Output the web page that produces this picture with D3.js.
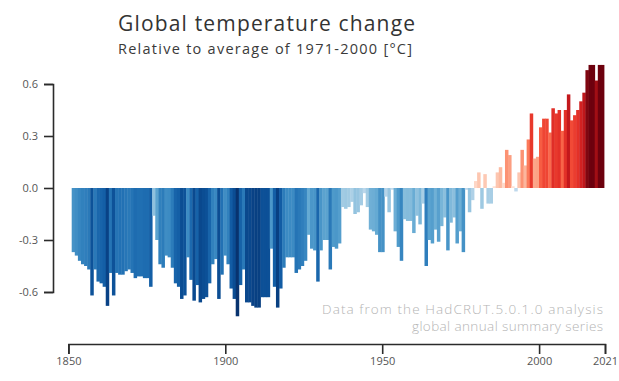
<!DOCTYPE html>
<html><head><meta charset="utf-8">
<script src="https://cdn.jsdelivr.net/npm/d3@7"></script>
<style>
html,body{margin:0;padding:0;background:#fff;}
svg{display:block;font-family:"Open Sans",Lato,sans-serif;}
</style></head><body>
<svg id="chart" width="619" height="381"></svg>
<script>
const titleText = "Global temperature change";
const subtitleText = "Relative to average of 1971-2000 [°C]";
const noteLines = ["Data from the HadCRUT.5.0.1.0 analysis", "global annual summary series"];
const firstYear = 1850, lastYear = 2021;
const anomalies = [
 -0.37,-0.39,-0.42,-0.44,-0.45,-0.47,-0.62,-0.47,-0.54,-0.55,
 -0.57,-0.68,-0.49,-0.62,-0.49,-0.50,-0.50,-0.48,-0.47,-0.49,
 -0.52,-0.51,-0.51,-0.52,-0.52,-0.57,-0.16,-0.30,-0.44,-0.46,
 -0.39,-0.40,-0.46,-0.55,-0.57,-0.64,-0.62,-0.40,-0.53,-0.65,
 -0.56,-0.66,-0.64,-0.63,-0.55,-0.44,-0.41,-0.64,-0.50,-0.39,
 -0.44,-0.58,-0.64,-0.74,-0.56,-0.47,-0.66,-0.66,-0.68,-0.69,
 -0.69,-0.63,-0.63,-0.63,-0.35,-0.57,-0.69,-0.58,-0.46,-0.40,
 -0.40,-0.40,-0.49,-0.47,-0.45,-0.42,-0.27,-0.35,-0.36,-0.54,
 -0.36,-0.30,-0.30,-0.47,-0.34,-0.35,-0.32,-0.11,-0.12,-0.11,
 -0.08,-0.15,-0.14,-0.10,-0.03,-0.11,-0.24,-0.25,-0.27,-0.37,
 -0.37,-0.05,-0.14,-0.01,-0.25,-0.34,-0.42,-0.18,-0.19,-0.19,
 -0.26,-0.16,-0.21,-0.09,-0.45,-0.30,-0.32,-0.24,-0.31,-0.22,
 -0.17,-0.36,-0.20,-0.17,-0.32,-0.25,-0.37,-0.01,-0.14,-0.07,
 0.04,0.09,-0.12,0.08,-0.09,-0.09,0.01,0.09,0.12,0.03,
 0.22,0.19,0.01,-0.02,0.09,0.22,0.13,0.28,0.43,0.17,
 0.18,0.35,0.40,0.40,0.32,0.46,0.43,0.45,0.33,0.45,
 0.54,0.39,0.42,0.45,0.50,0.55,0.68,0.71,0.71,0.62,
 0.71,0.71
];
const xTickValues = [1850, 1900, 1950, 2000, 2021];
const yTickValues = [-0.6, -0.3, 0.0, 0.3, 0.6];
const yTickLabels = ["-0.6", "-0.3", "0.0", "0.3", "0.6"];

const years = d3.range(firstYear, lastYear + 1);
const data = years.map((yr, i) => ({year: yr, value: anomalies[i]}));

const svg = d3.select("#chart");
const x = d3.scaleLinear().domain([firstYear, lastYear]).range([68.4, 605]);
const xb = d3.scaleBand().domain(years).range([71.7, 604]).padding(0);
const y = d3.scaleLinear().domain([-0.6, 0.6]).range([292, 84]);

const blue = d3.scaleSequential(d3.interpolateBlues).domain([-0.25, 0.75]).clamp(true);
const red = d3.scaleSequential(d3.interpolateReds).domain([-0.08, 0.72]).clamp(true);
const colour = v => v < 0 ? blue(-v) : red(v);

svg.append("g").selectAll("rect").data(data).join("rect")
  .attr("x", d => xb(d.year))
  .attr("width", xb.bandwidth() + 0.4)
  .attr("y", d => y(Math.max(0, d.value)))
  .attr("height", d => Math.abs(y(d.value) - y(0)))
  .attr("fill", d => colour(d.value));

const yAxis = svg.append("g").attr("transform", "translate(53,0)")
  .call(d3.axisLeft(y).tickValues(yTickValues).tickFormat((d, i) => yTickLabels[i])
    .tickSize(9).tickSizeOuter(9).tickPadding(6));
const xAxis = svg.append("g").attr("transform", "translate(0,344)")
  .call(d3.axisBottom(x).tickValues(xTickValues).tickFormat(d3.format("d"))
    .tickSize(10).tickSizeOuter(10).tickPadding(3));
[yAxis, xAxis].forEach(g => {
  g.select(".domain").attr("stroke", "#2b2b2b").attr("stroke-width", 1.6);
  g.selectAll(".tick line").attr("stroke", "#2b2b2b").attr("stroke-width", 1.6);
  g.selectAll(".tick text").attr("fill", "#555").style("font-size", "11px")
    .style("font-family", "'Open Sans', Lato, sans-serif");
});

svg.append("text").attr("x", 118).attr("y", 31).attr("fill", "#333")
  .style("font-size", "21px").attr("textLength", 297).attr("lengthAdjust", "spacing")
  .text(titleText);
svg.append("text").attr("x", 118).attr("y", 54).attr("fill", "#3a3a3a")
  .style("font-size", "14.5px").attr("textLength", 294).attr("lengthAdjust", "spacing")
  .text(subtitleText);

const noteWidths = [281, 191];
svg.append("g").selectAll("text").data(noteLines).join("text")
  .attr("x", 603).attr("y", (d, i) => 314 + i * 17)
  .attr("text-anchor", "end").attr("fill", "#b4b4b4")
  .style("font-size", "13.5px").style("font-weight", 300)
  .attr("textLength", (d, i) => noteWidths[i]).attr("lengthAdjust", "spacing")
  .text(d => d);
</script>
</body></html>
